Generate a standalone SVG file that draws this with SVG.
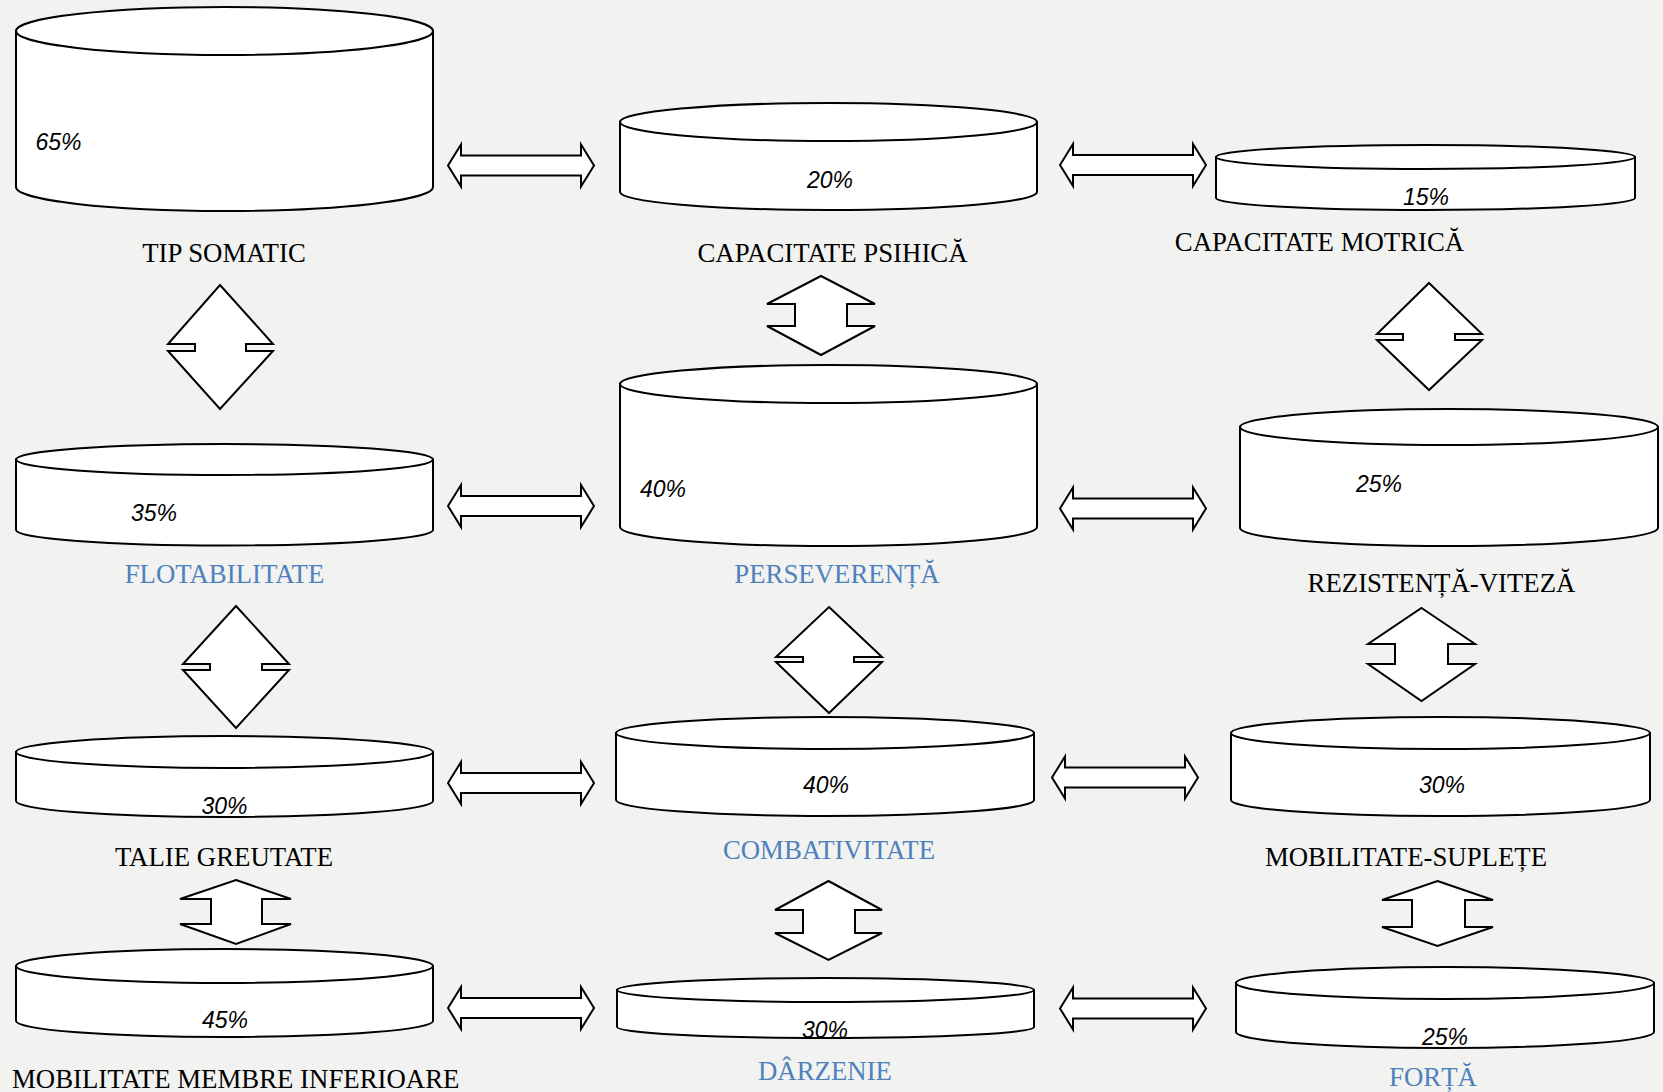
<svg xmlns="http://www.w3.org/2000/svg" xmlns:xlink="http://www.w3.org/1999/xlink" width="1663" height="1092" viewBox="0 0 1663 1092">
<style>
.cyl{fill:#fff;stroke:#000;stroke-width:2}
.arr{fill:#fff;stroke:#000;stroke-width:2;stroke-linejoin:miter}
.pct{font-family:"Liberation Sans",Arial,sans-serif;font-style:italic;font-size:23px;fill:#000}
.lbl{font-family:"Liberation Serif","Times New Roman",serif;font-size:26.8px;fill:#000;text-anchor:middle}
.blue{fill:#4f81bd}
</style>
<defs>
<path id="harr" d="M0,0 L13,-21 L13,-10 L133,-10 L133,-21 L146,0 L133,21 L133,10 L13,10 L13,21 Z"/>
</defs>
<rect width="1663" height="1092" fill="#f2f2f1"/>

<g id="connectors">
<use href="#harr" class="arr" x="448" y="165.5"/>
<use href="#harr" class="arr" x="1060" y="165"/>
<use href="#harr" class="arr" x="448" y="506"/>
<use href="#harr" class="arr" x="1060" y="508.5"/>
<use href="#harr" class="arr" x="448" y="783"/>
<use href="#harr" class="arr" x="1052" y="777.5"/>
<use href="#harr" class="arr" x="448" y="1008"/>
<use href="#harr" class="arr" x="1060" y="1008.5"/>
<path class="arr" d="M220,285 L273,344 L246,344 L246,351 L273,351 L220,409 L168,351 L195,351 L195,344 L168,344 Z"/>
<path class="arr" d="M821,276 L875,304 L847,304 L847,326 L875,326 L821,355 L767,326 L795,326 L795,304 L767,304 Z"/>
<path class="arr" d="M1429,283 L1482,334 L1455,334 L1455,340 L1482,340 L1429,390 L1377,340 L1403,340 L1403,334 L1377,334 Z"/>
<path class="arr" d="M236,606 L289,664 L262,664 L262,670 L289,670 L236,728 L183,670 L210,670 L210,664 L183,664 Z"/>
<path class="arr" d="M829,607 L882,657 L854,657 L854,662 L882,662 L829,713 L776,662 L803,662 L803,657 L776,657 Z"/>
<path class="arr" d="M1421.5,608 L1475,644 L1448,644 L1448,664 L1475,664 L1421.5,701 L1368,664 L1395,664 L1395,644 L1368,644 Z"/>
<path class="arr" d="M236,880 L291,899 L262,899 L262,924 L291,924 L236,944 L180,924 L211,924 L211,899 L180,899 Z"/>
<path class="arr" d="M828.5,881 L882,910 L855,910 L855,933 L882,933 L828.5,960 L775,933 L803,933 L803,910 L775,910 Z"/>
<path class="arr" d="M1437.5,881 L1493,900 L1465,900 L1465,927 L1493,927 L1437.5,946 L1382,927 L1412,927 L1412,900 L1382,900 Z"/>
</g>

<g id="tip-somatic">
<path class="cyl" d="M16,31 L16,187 A208.5,24 0 0 0 433,187 L433,31 Z"/>
<ellipse class="cyl" cx="224.5" cy="31" rx="208.5" ry="24"/>
<text class="pct" x="35.5" y="150">65%</text>
<text class="lbl" x="224" y="262">TIP SOMATIC</text>
</g>

<g id="capacitate-psihica">
<path class="cyl" d="M620,122 L620,192 A208.5,18 0 0 0 1037,192 L1037,122 Z"/>
<ellipse class="cyl" cx="828.5" cy="122" rx="208.5" ry="19"/>
<text class="pct" x="807" y="188">20%</text>
<text class="lbl" x="832.5" y="262">CAPACITATE PSIHICĂ</text>
</g>

<g id="capacitate-motrica">
<path class="cyl" d="M1216,157 L1216,198 A209.5,12 0 0 0 1635,198 L1635,157 Z"/>
<ellipse class="cyl" cx="1425.5" cy="157" rx="209.5" ry="12"/>
<text class="pct" x="1403" y="205">15%</text>
<text class="lbl" x="1319.5" y="251">CAPACITATE MOTRICĂ</text>
</g>

<g id="flotabilitate">
<path class="cyl" d="M16,459.5 L16,530 A208.5,15.5 0 0 0 433,530 L433,459.5 Z"/>
<ellipse class="cyl" cx="224.5" cy="459.5" rx="208.5" ry="15.5"/>
<text class="pct" x="131" y="521">35%</text>
<text class="lbl blue" x="224.5" y="583">FLOTABILITATE</text>
</g>

<g id="perseverenta">
<path class="cyl" d="M620,384 L620,527 A208.5,19 0 0 0 1037,527 L1037,384 Z"/>
<ellipse class="cyl" cx="828.5" cy="384" rx="208.5" ry="19"/>
<text class="pct" x="640" y="497">40%</text>
<text class="lbl blue" x="837" y="583">PERSEVERENȚĂ</text>
</g>

<g id="rezistenta-viteza">
<path class="cyl" d="M1240,427 L1240,528 A209,18 0 0 0 1658,528 L1658,427 Z"/>
<ellipse class="cyl" cx="1449" cy="427" rx="209" ry="18"/>
<text class="pct" x="1356" y="492">25%</text>
<text class="lbl" x="1441.5" y="592">REZISTENȚĂ-VITEZĂ</text>
</g>

<g id="talie-greutate">
<path class="cyl" d="M16,752 L16,801 A208.5,16 0 0 0 433,801 L433,752 Z"/>
<ellipse class="cyl" cx="224.5" cy="752" rx="208.5" ry="16"/>
<text class="pct" x="201.5" y="814">30%</text>
<text class="lbl" x="224" y="866">TALIE GREUTATE</text>
</g>

<g id="combativitate">
<path class="cyl" d="M616,733 L616,800 A209,16 0 0 0 1034,800 L1034,733 Z"/>
<ellipse class="cyl" cx="825" cy="733" rx="209" ry="16"/>
<text class="pct" x="803" y="793">40%</text>
<text class="lbl blue" x="829" y="859">COMBATIVITATE</text>
</g>

<g id="mobilitate-suplete">
<path class="cyl" d="M1231,733 L1231,800 A209.5,16 0 0 0 1650,800 L1650,733 Z"/>
<ellipse class="cyl" cx="1440.5" cy="733" rx="209.5" ry="16"/>
<text class="pct" x="1419" y="793">30%</text>
<text class="lbl" x="1406" y="866">MOBILITATE-SUPLEȚE</text>
</g>

<g id="mobilitate-membre-inferioare">
<path class="cyl" d="M16,966 L16,1021 A208.5,16 0 0 0 433,1021 L433,966 Z"/>
<ellipse class="cyl" cx="224.5" cy="966" rx="208.5" ry="17"/>
<text class="pct" x="202" y="1028">45%</text>
<text class="lbl" x="235.7" y="1088">MOBILITATE MEMBRE INFERIOARE</text>
</g>

<g id="darzenie">
<path class="cyl" d="M617,990 L617,1027 A208.5,11 0 0 0 1034,1027 L1034,990 Z"/>
<ellipse class="cyl" cx="825.5" cy="990" rx="208.5" ry="12"/>
<text class="pct" x="802" y="1038">30%</text>
<text class="lbl blue" x="825" y="1080">DÂRZENIE</text>
</g>

<g id="forta">
<path class="cyl" d="M1236,983 L1236,1032 A209,16 0 0 0 1654,1032 L1654,983 Z"/>
<ellipse class="cyl" cx="1445" cy="983" rx="209" ry="16"/>
<text class="pct" x="1422" y="1045">25%</text>
<text class="lbl blue" x="1433" y="1086">FORȚĂ</text>
</g>
</svg>
